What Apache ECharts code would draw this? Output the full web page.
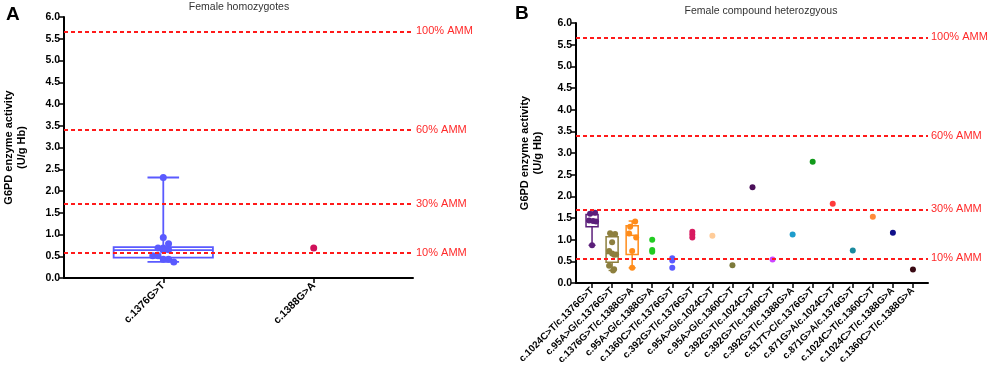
<!DOCTYPE html>
<html>
<head>
<meta charset="utf-8">
<script src="https://cdn.jsdelivr.net/npm/echarts@6/dist/echarts.min.js"></script>
<style>
  html, body { margin: 0; padding: 0; background: #fff; }
  #chart { width: 989px; height: 371px; }
</style>
</head>
<body>
<div id="chart"></div>
<script>
// ---- panel A : female homozygotes ----
const homoCats = ['c.1376G>T', 'c.1388G>A'];
// min, q1, median, q3, max  (only the first group has a box)
const homoBox = [[0.37, 0.47, 0.64, 0.71, 2.31]];
const homoValues = [
  [2.31, 0.93, 0.79, 0.69, 0.69, 0.65, 0.64, 0.51, 0.51, 0.43, 0.43, 0.37],
  [0.69]
];
const homoJitter = [
  [0, 0, 0.035, -0.035, 0, 0.035, 0, -0.07, -0.035, 0, 0.035, 0.07],
  [0]
];
const homoColors = ['#5a5aff', '#d0105a'];

// ---- panel B : female compound heterozygous ----
const hetCats = [
  'c.1024C>T/c.1376G>T', 'c.95A>G/c.1376G>T', 'c.1376G>T/c.1388G>A', 'c.95A>G/c.1388G>A',
  'c.1360C>T/c.1376G>T', 'c.392G>T/c.1376G>T', 'c.95A>G/c.1024C>T', 'c.95A>G/c.1360C>T',
  'c.392G>T/c.1024C>T', 'c.392G>T/c.1360C>T', 'c.392G>T/c.1388G>A', 'c.517T>C/c.1376G>T',
  'c.871G>A/c.1024C>T', 'c.871G>A/c.1376G>T', 'c.1024C>T/c.1360C>T', 'c.1024C>T/c.1388G>A',
  'c.1360C>T/c.1388G>A'
];
const hetBox = [
  [0.87, 1.30, 1.43, 1.58, 1.62],
  [0.29, 0.48, 0.68, 1.07, 1.16],
  [0.35, 0.66, 1.10, 1.32, 1.43]
];
const hetValues = [
  [1.62, 1.60, 1.44, 1.43, 1.42, 0.87],
  [1.15, 1.13, 0.94, 0.74, 0.68, 0.66, 0.65, 0.40, 0.32, 0.29],
  [1.42, 1.30, 1.14, 1.05, 0.74, 0.35],
  [1.00, 0.76, 0.72],
  [0.57, 0.52, 0.35],
  [1.18, 1.12, 1.05],
  [1.09], [0.41], [2.21], [0.54], [1.12], [2.80], [1.83], [0.75], [1.53], [1.16], [0.31]
];
const hetJitter = [
  [0.15, -0.1, -0.15, 0.05, 0.2, 0],
  [-0.1, 0.15, 0, -0.15, 0, 0.2, 0.1, -0.15, 0.1, 0.05],
  [0.15, -0.1, -0.15, 0.2, 0, 0]
];
const hetColors = [
  '#5b1f7a', '#8d7f3e', '#ff8c1a', '#22cc22', '#5a5aff', '#d81b60', '#ffcc99', '#7d7a3b',
  '#4b0f5a', '#cc44ff', '#1e9ccc', '#119a1a', '#ff3b3b', '#1a8a9e', '#ff8a3a', '#10108a',
  '#3a0a14'
];

// AMM reference levels
const ammLevels = [5.67, 3.40, 1.70, 0.567];
const ammLabels = ['100% AMM', '60% AMM', '30% AMM', '10% AMM'];

const FONT = 'Liberation Sans, Arial, Helvetica, sans-serif';

const myChart = echarts.init(document.getElementById('chart'), null, { renderer: 'canvas' });

const pointsOf = (values, jitter, colors) => {
  const out = [];
  values.forEach((vals, i) => {
    vals.forEach((v, k) => {
      const j = jitter[i] ? jitter[i][k] : 0;
      out.push({ value: [i + j, v], itemStyle: { color: colors[i], opacity: 1 } });
    });
  });
  return out;
};

const boxesOf = (boxes) => boxes.map((b, i) => [i].concat(b));

const boxRenderer = (boxW, capW, colors, lw) => (params, api) => {
  const x = api.value(0);
  const unit = api.size([1, 0])[0];
  const w = unit * boxW;
  const cw = unit * capW;
  const pMin = api.coord([x, api.value(1)]);
  const pQ1 = api.coord([x, api.value(2)]);
  const pMed = api.coord([x, api.value(3)]);
  const pQ3 = api.coord([x, api.value(4)]);
  const pMax = api.coord([x, api.value(5)]);
  const cx = pMin[0];
  const style = { stroke: colors[params.dataIndex], lineWidth: lw, fill: null };
  return {
    type: 'group',
    children: [
      { type: 'rect', shape: { x: cx - w / 2, y: pQ3[1], width: w, height: pQ1[1] - pQ3[1] }, style: style },
      { type: 'line', shape: { x1: cx - w / 2, y1: pMed[1], x2: cx + w / 2, y2: pMed[1] }, style: style },
      { type: 'line', shape: { x1: cx, y1: pQ3[1], x2: cx, y2: pMax[1] }, style: style },
      { type: 'line', shape: { x1: cx, y1: pQ1[1], x2: cx, y2: pMin[1] }, style: style },
      { type: 'line', shape: { x1: cx - cw / 2, y1: pMax[1], x2: cx + cw / 2, y2: pMax[1] }, style: style },
      { type: 'line', shape: { x1: cx - cw / 2, y1: pMin[1], x2: cx + cw / 2, y2: pMin[1] }, style: style }
    ]
  };
};

const ammMarkLine = {
  silent: true,
  symbol: 'none',
  animation: false,
  lineStyle: { color: '#ff1a1a', type: [4, 3], width: 1.8 },
  label: {
    position: 'end',
    distance: 3,
    color: '#ff2a2a',
    fontSize: 11,
    fontFamily: FONT,
    formatter: (p) => ammLabels[p.dataIndex]
  },
  data: ammLevels.map((v) => ({ yAxis: v }))
};

const xAxisOf = (gridIndex, cats, min, max, fontSize) => ({
  type: 'value',
  gridIndex: gridIndex,
  min: min,
  max: max,
  splitLine: { show: false },
  axisLine: { onZero: false, lineStyle: { color: '#000', width: 2 } },
  axisTick: { customValues: cats.map((c, i) => i), length: 5, lineStyle: { color: '#000', width: 1.5 } },
  axisLabel: {
    customValues: cats.map((c, i) => i),
    formatter: (v) => cats[Math.round(v)],
    rotate: 45,
    margin: 6,
    color: '#000',
    fontWeight: 'bold',
    fontSize: fontSize,
    fontFamily: FONT
  }
});

const yAxisOf = (gridIndex, nameGap) => ({
  type: 'value',
  gridIndex: gridIndex,
  min: 0,
  max: 6,
  interval: 0.5,
  name: 'G6PD enzyme activity\n(U/g Hb)',
  nameLocation: 'middle',
  nameGap: nameGap,
  nameTextStyle: { color: '#000', fontWeight: 'bold', fontSize: 11, lineHeight: 13, fontFamily: FONT },
  splitLine: { show: false },
  axisLine: { show: true, onZero: false, lineStyle: { color: '#000', width: 2 } },
  axisTick: { show: true, length: 5, lineStyle: { color: '#000', width: 1.5 } },
  axisLabel: {
    color: '#000',
    fontWeight: 'bold',
    fontSize: 10.5,
    margin: 4,
    fontFamily: FONT,
    formatter: (v) => v.toFixed(1)
  }
});

const option = {
  backgroundColor: '#fff',
  animation: false,
  grid: [
    { left: 64, top: 17, width: 349, height: 261 },
    { left: 576, top: 23, width: 352, height: 260 }
  ],
  xAxis: [
    xAxisOf(0, homoCats, -0.66, 1.66, 10.5),
    xAxisOf(1, hetCats, -0.8, 16.75, 9.8)
  ],
  yAxis: [
    yAxisOf(0, 36),
    yAxisOf(1, 32)
  ],
  graphic: [
    { type: 'text', x: 6, y: 5, style: { text: 'A', font: 'bold 19px ' + FONT, fill: '#000' } },
    { type: 'text', x: 239, y: 2, style: { text: 'Female homozygotes', font: '10.5px ' + FONT, fill: '#333', textAlign: 'center' } },
    { type: 'text', x: 515, y: 4, style: { text: 'B', font: 'bold 19px ' + FONT, fill: '#000' } },
    { type: 'text', x: 761, y: 6, style: { text: 'Female compound heterozgyous', font: '10.5px ' + FONT, fill: '#333', textAlign: 'center' } }
  ],
  series: [
    {
      type: 'custom',
      xAxisIndex: 0,
      yAxisIndex: 0,
      renderItem: boxRenderer(0.66, 0.21, homoColors, 1.8),
      encode: { x: 0, y: [1, 2, 3, 4, 5] },
      data: boxesOf(homoBox),
      z: 2
    },
    {
      type: 'scatter',
      xAxisIndex: 0,
      yAxisIndex: 0,
      symbolSize: 7,
      data: pointsOf(homoValues, homoJitter, homoColors),
      markLine: ammMarkLine,
      z: 3
    },
    {
      type: 'custom',
      xAxisIndex: 1,
      yAxisIndex: 1,
      renderItem: boxRenderer(0.6, 0.35, hetColors, 1.5),
      encode: { x: 0, y: [1, 2, 3, 4, 5] },
      data: boxesOf(hetBox),
      z: 2
    },
    {
      type: 'scatter',
      xAxisIndex: 1,
      yAxisIndex: 1,
      symbolSize: 6,
      data: pointsOf(hetValues, hetJitter, hetColors),
      markLine: ammMarkLine,
      z: 3
    }
  ]
};

myChart.setOption(option);
</script>
</body>
</html>
